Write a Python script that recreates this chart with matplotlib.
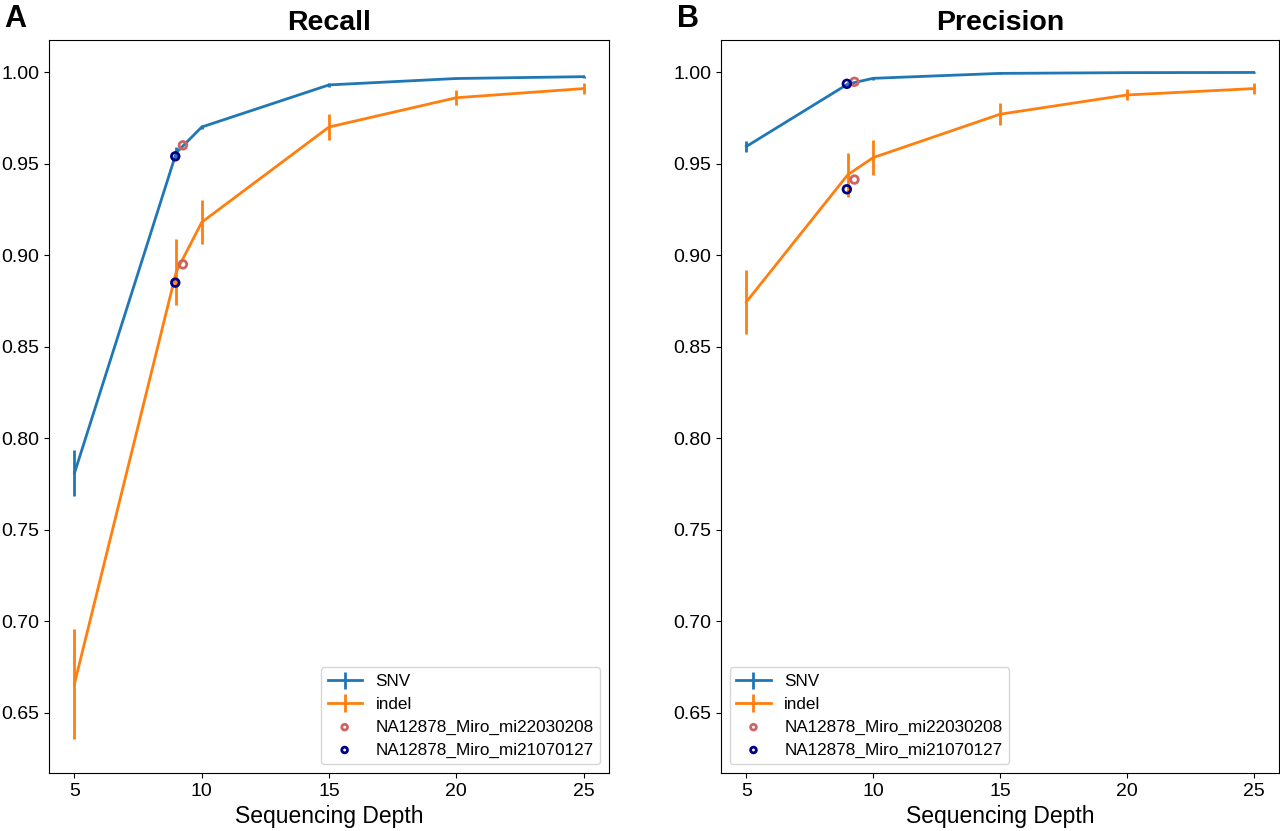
import numpy as np
import matplotlib
matplotlib.use('Agg')
import matplotlib.pyplot as plt

plt.rcParams['font.family'] = ['Liberation Sans', 'DejaVu Sans']

depth = [5, 9, 10, 15, 20, 25]

# Recall
recall_snv = [0.781, 0.956, 0.970, 0.993, 0.9965, 0.9975]
recall_snv_err = [0.0125, 0.003, 0.001, 0.001, 0.0005, 0.0005]
recall_indel = [0.666, 0.891, 0.918, 0.970, 0.986, 0.991]
recall_indel_err = [0.030, 0.018, 0.012, 0.007, 0.004, 0.003]

# Precision
prec_snv = [0.9594, 0.9935, 0.9966, 0.9993, 0.9997, 0.9998]
prec_snv_err = [0.003, 0.001, 0.0008, 0.0003, 0.0002, 0.0002]
prec_indel = [0.8745, 0.944, 0.9533, 0.977, 0.9875, 0.991]
prec_indel_err = [0.0175, 0.012, 0.0096, 0.006, 0.003, 0.003]

# single samples
samples = ['NA12878_Miro_mi22030208', 'NA12878_Miro_mi21070127']
sample_colors = ['#cd6464', '#00008b']
sample_depth = [9.26, 8.96]
sample_recall_snv = [0.960, 0.954]
sample_recall_indel = [0.895, 0.885]
sample_prec_snv = [0.9947, 0.9936]
sample_prec_indel = [0.9413, 0.936]

fig = plt.figure(figsize=(12.8, 8.31), dpi=100)
ax1 = fig.add_axes([0.0383, 0.0698, 0.4375, 0.882])
ax2 = fig.add_axes([0.5633, 0.0698, 0.436, 0.882])


def panel(ax, snv, snv_err, indel, indel_err, s_snv, s_indel, title, loc):
    h1 = ax.errorbar(depth, snv, yerr=snv_err, color='#1f77b4', lw=2, elinewidth=2, label='SNV')
    h2 = ax.errorbar(depth, indel, yerr=indel_err, color='#ff7f0e', lw=2, elinewidth=2, label='indel')
    handles = [h1, h2]
    for i in range(len(samples)):
        h = ax.scatter([sample_depth[i], sample_depth[i]], [s_snv[i], s_indel[i]],
                       facecolors='none', edgecolors=sample_colors[i], s=30, linewidths=2,
                       zorder=5, label=samples[i])
        handles.append(h)
    ax.set_xlim(4, 26)
    ax.set_ylim(0.6172, 1.0175)
    ax.set_xticks([5, 10, 15, 20, 25])
    ax.set_yticks(np.arange(0.65, 1.001, 0.05))
    ax.set_yticklabels(['%.2f' % v for v in np.arange(0.65, 1.001, 0.05)])
    ax.tick_params(labelsize=14)
    ax.set_xlabel('Sequencing Depth', fontsize=16.5)
    ax.set_title(title, fontsize=20.5, fontweight='bold', pad=7)
    ax.legend(handles=handles, loc=loc, fontsize=12.3, markerscale=0.75, labelspacing=0.45)


panel(ax1, recall_snv, recall_snv_err, recall_indel, recall_indel_err,
      sample_recall_snv, sample_recall_indel, 'Recall', 'lower right')
panel(ax2, prec_snv, prec_snv_err, prec_indel, prec_indel_err,
      sample_prec_snv, sample_prec_indel, 'Precision', 'lower left')

fig.text(0.003, 0.995, 'A', fontsize=22, fontweight='bold', va='top', ha='left')
fig.text(0.529, 0.995, 'B', fontsize=22, fontweight='bold', va='top', ha='left')

fig.savefig('out.png', dpi=100)
